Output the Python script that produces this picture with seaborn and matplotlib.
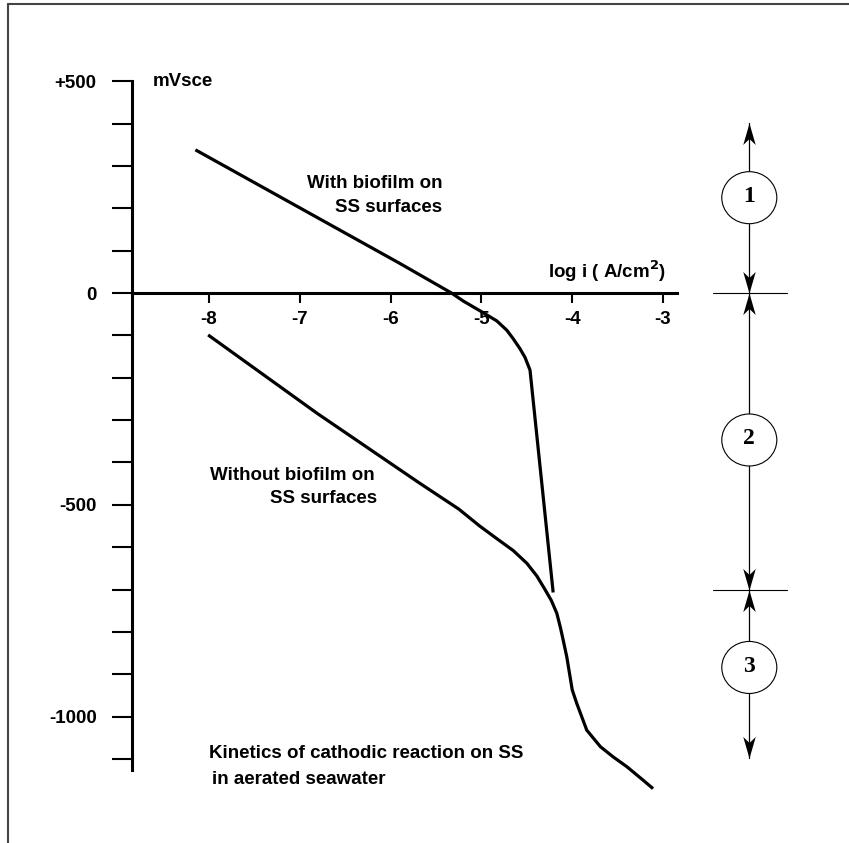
import matplotlib
matplotlib.use("Agg")
import matplotlib.pyplot as plt
from matplotlib.patches import Ellipse
from matplotlib.lines import Line2D
import seaborn as sns
import pandas as pd

# ---- data ----
bio_logi = [-8.15, -7.0, -5.9, -5.33, -5.2, -5.0, -4.83, -4.72, -4.65, -4.58,
            -4.52, -4.465, -4.21]
bio_mv = [338, 201, 70, 0, -19, -44, -66, -88, -108, -130, -152, -182, -707]

nobio_logi = [-8.01, -6.81, -5.68, -5.25, -5.02, -4.83, -4.65, -4.50, -4.39, -4.30,
              -4.23, -4.17, -4.13, -4.10, -4.06, -4.03, -4.00, -3.95, -3.84, -3.69,
              -3.55, -3.40, -3.22, -3.11]
nobio_mv = [-99, -284, -449, -510, -550, -580, -608, -638, -668, -700,
            -726, -756, -790, -819, -859, -898, -937, -969, -1032, -1071,
            -1095, -1118, -1150, -1170]

x_ticks = [-8, -7, -6, -5, -4, -3]
x_tick_labels = ["-8", "-7", "-6", "-5", "-4", "-3"]
y_ticks = list(range(-1100, 501, 100))
y_tick_labels = {500: "+500", 0: "0", -500: "-500", -1000: "-1000"}

zone_bounds = [0, -700]          # mV, horizontal separators
zone_labels = ["1", "2", "3"]
zone_centers = [225, -347, -884]  # mV
zone_tips_top = 402
zone_tips_bottom = -1097

sns.set_style("white")
plt.rcParams["font.family"] = ["Liberation Sans", "DejaVu Sans"]
plt.rcParams["font.weight"] = "bold"
plt.rcParams["text.color"] = "black"
plt.rcParams["xtick.color"] = "black"
plt.rcParams["ytick.color"] = "black"

fig = plt.figure(figsize=(8.49, 8.43), dpi=100)
ax = fig.add_axes([0, 0, 1, 1])
ax.set_xlim(-10.302, -0.952)
ax.set_ylim(-1298.4, 691.7)

df1 = pd.DataFrame({"logi": bio_logi, "mV": bio_mv})
df2 = pd.DataFrame({"logi": nobio_logi, "mV": nobio_mv})
sns.lineplot(data=df1, x="logi", y="mV", sort=False, estimator=None, color="black",
             lw=2.3, ax=ax, solid_capstyle="butt", solid_joinstyle="round")
sns.lineplot(data=df2, x="logi", y="mV", sort=False, estimator=None, color="black",
             lw=2.3, ax=ax, solid_capstyle="butt", solid_joinstyle="round")
ax.set_xlabel("")
ax.set_ylabel("")

# axes / spines
for s in ["top", "right"]:
    ax.spines[s].set_visible(False)
ax.spines["left"].set_position(("data", -8.85))
ax.spines["bottom"].set_position(("data", 0))
ax.spines["left"].set_bounds(-1125, 500)
ax.spines["bottom"].set_bounds(-8.85, -2.85)
for s in ["left", "bottom"]:
    ax.spines[s].set_linewidth(2.2)
    ax.spines[s].set_color("black")

ax.set_xticks(x_ticks)
ax.set_xticklabels(x_tick_labels)
ax.set_yticks(y_ticks)
ax.set_yticklabels([y_tick_labels.get(v, "") for v in y_ticks])
ax.tick_params(axis="x", bottom=True, direction="out", length=7.2, width=1.5, pad=6,
               labelsize=13.5, colors="black")
ax.tick_params(axis="y", left=True, direction="out", length=14.4, width=1.5, pad=11,
               labelsize=13.5, colors="black")
for lab in ax.get_xticklabels() + ax.get_yticklabels():
    lab.set_fontweight("bold")

fs = 13.5
ax.text(-8.617, 500, "mVsce", fontsize=fs, fontweight="bold", va="center", ha="left")
ax.text(-4.267, 35, r"log i ( A/cm$^\mathbf{2}$)", fontsize=fs, fontweight="bold",
        va="baseline", ha="left")
ax.text(-6.92, 248, "With biofilm on", fontsize=fs, fontweight="bold", va="baseline")
ax.text(-6.61, 191, "SS surfaces", fontsize=fs, fontweight="bold", va="baseline")
ax.text(-7.99, -441, "Without biofilm on", fontsize=fs, fontweight="bold", va="baseline")
ax.text(-7.33, -496, "SS surfaces", fontsize=fs, fontweight="bold", va="baseline")
ax.text(-8.0, -1098, "Kinetics of cathodic reaction on SS", fontsize=fs,
        fontweight="bold", va="baseline")
ax.text(-7.97, -1159, "in aerated seawater", fontsize=fs, fontweight="bold",
        va="baseline")

# zone annotation on the right
zx = -2.05
ew, eh = 0.606, 122.8
for yb in zone_bounds:
    ax.plot([-2.45, -1.634], [yb, yb], color="black", lw=0.8)
for lab, yc in zip(zone_labels, zone_centers):
    ax.add_patch(Ellipse((zx, yc), ew, eh, fc="white", ec="black", lw=0.8, zorder=5))
    ax.text(zx, yc + 3, lab, fontsize=17, fontweight="bold", color="black",
            family=["Liberation Serif", "DejaVu Serif"], ha="center", va="center",
            zorder=6)

# notched ("stealth") arrowheads as custom markers with the tip at the origin
up_head = [(0, 0), (-0.29, -1), (0, -0.72), (0.29, -1), (0, 0)]
down_head = [(x, -y) for x, y in up_head]
head_size = 31

tops = [zone_tips_top] + zone_bounds
bottoms = zone_bounds + [zone_tips_bottom]
for yc, ytop, ybot in zip(zone_centers, tops, bottoms):
    ax.plot([zx, zx], [yc + eh / 2, ytop], color="black", lw=0.9, zorder=3)
    ax.plot([zx, zx], [yc - eh / 2, ybot], color="black", lw=0.9, zorder=3)
    ax.plot([zx], [ytop], marker=up_head, markersize=head_size, color="black",
            markeredgewidth=0, linestyle="none", zorder=4)
    ax.plot([zx], [ybot], marker=down_head, markersize=head_size, color="black",
            markeredgewidth=0, linestyle="none", zorder=4)

# outer frame (top and left only)
fig.add_artist(Line2D([8 / 849, 1], [1 - 4 / 843, 1 - 4 / 843], color="#444444",
                      lw=1.5, transform=fig.transFigure))
fig.add_artist(Line2D([8 / 849, 8 / 849], [0, 1 - 4 / 843], color="#444444",
                      lw=1.5, transform=fig.transFigure))

fig.savefig("out.png", dpi=100)
